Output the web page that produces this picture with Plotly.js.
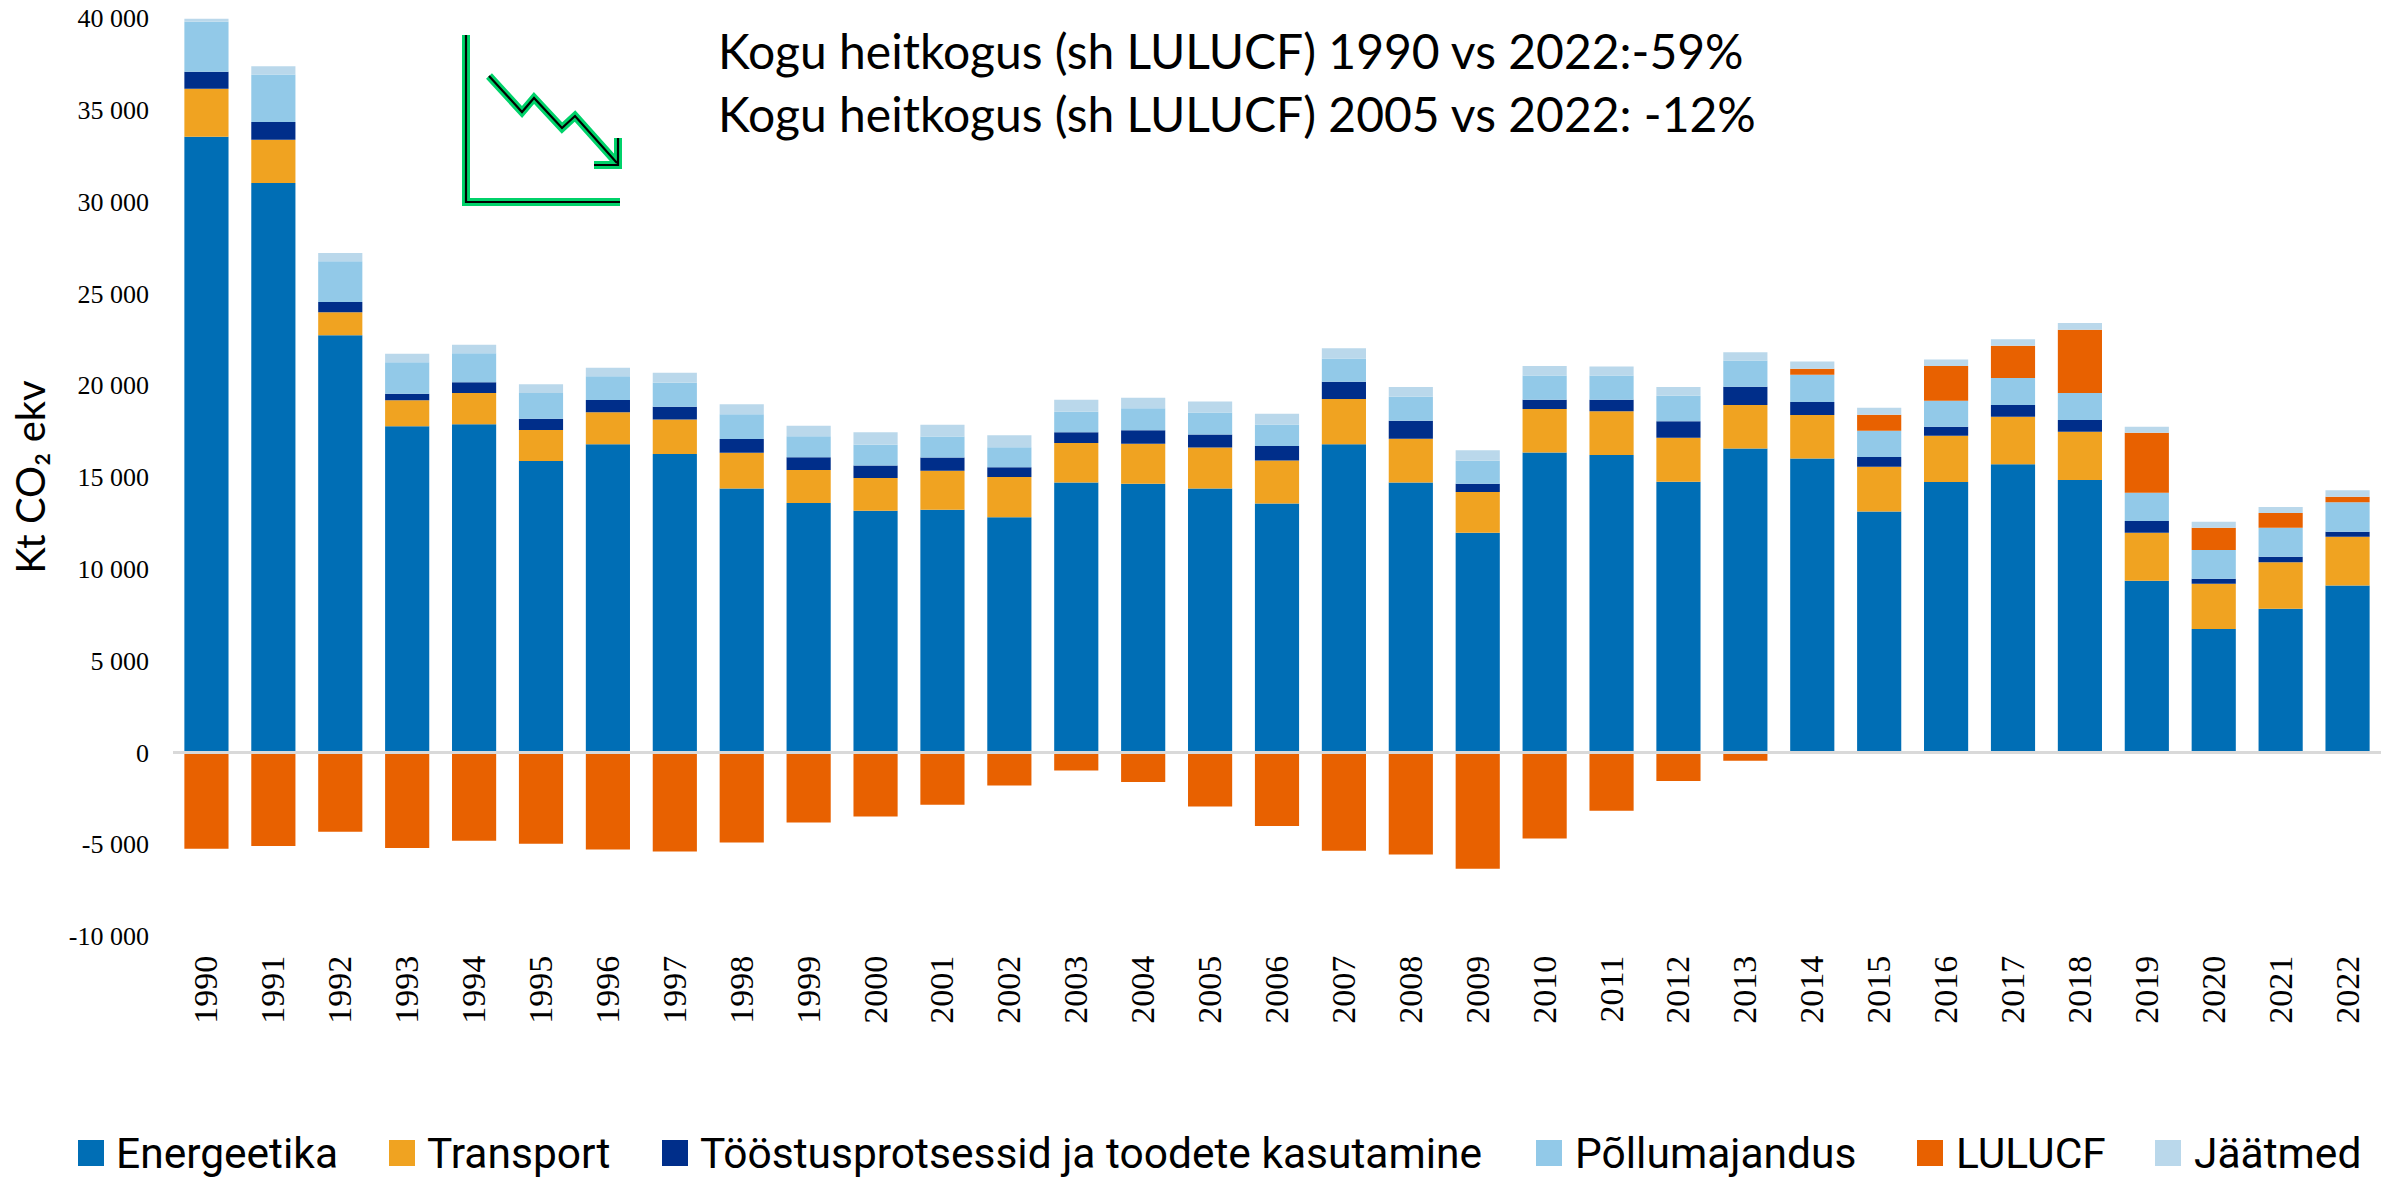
<!DOCTYPE html>
<html>
<head>
<meta charset="utf-8">
<script src="https://cdn.plot.ly/plotly-3.0.1.min.js"></script>
<style>html,body{margin:0;padding:0;background:#fff}#chart{width:2400px;height:1177px}</style>
</head>
<body>
<div id="chart"></div>
<script>
const years = ['1990','1991','1992','1993','1994','1995','1996','1997','1998','1999','2000','2001','2002','2003','2004','2005','2006','2007','2008','2009','2010','2011','2012','2013','2014','2015','2016','2017','2018','2019','2020','2021','2022'];
const energeetika = [33537,31015,22714,17758,17867,15869,16777,16250,14380,13581,13164,13218,12801,14707,14635,14380,13563,16777,14707,11966,16341,16196,14743,16559,16014,13127,14725,15688,14834,9351,6718,7826,9097];
const transport = [2615,2360,1253,1416,1707,1689,1743,1888,1943,1798,1779,2124,2197,2143,2179,2233,2342,2469,2379,2215,2360,2379,2397,2360,2360,2433,2524,2596,2633,2615,2469,2524,2651];
const toostus = [926,964,566,363,581,617,672,690,744,690,690,726,527,581,726,708,781,944,980,454,508,635,890,999,708,527,490,635,635,635,272,309,272];
const pollumajandus = [2724,2578,2212,1707,1580,1398,1289,1307,1344,1144,1126,1144,1089,1126,1198,1198,1180,1271,1307,1253,1325,1325,1398,1434,1489,1434,1416,1471,1471,1543,1561,1580,1598];
const lulucf = [-5247,-5102,-4321,-5211,-4812,-4975,-5284,-5393,-4902,-3813,-3486,-2851,-1798,-980,-1616,-2941,-4013,-5356,-5556,-6337,-4685,-3177,-1561,-454,327,872,1888,1761,3450,3268,1217,799,309];
const jaatmed = [163,454,458,472,472,472,472,545,545,581,672,635,654,654,581,599,581,545,527,563,508,490,472,436,399,381,363,345,363,327,327,327,345];
const seriesNames = ['Energeetika','Transport','Tööstusprotsessid ja toodete kasutamine','Põllumajandus','LULUCF','Jäätmed'];
const seriesColors = ['#006EB5','#F0A321','#002E8A','#92C9E8','#E86100','#BAD8EB'];
const yTickVals = [-10000,-5000,0,5000,10000,15000,20000,25000,30000,35000,40000];
const yTickText = ['-10 000','-5 000','0','5 000','10 000','15 000','20 000','25 000','30 000','35 000','40 000'];
const noteLines = ['Kogu heitkogus (sh LULUCF) 1990 vs 2022:-59%','Kogu heitkogus (sh LULUCF) 2005 vs 2022: -12%'];

const W = 2400, H = 1177, L = 173, R = 2381, T = 18, B = 936;
const px = x => (x - L) / (R - L);
const py = y => (B - y) / (B - T);

const values = [energeetika, transport, toostus, pollumajandus, lulucf, jaatmed];
const traces = values.map((v, i) => ({
  type: 'bar', name: seriesNames[i], x: years, y: v,
  marker: {color: seriesColors[i], line: {width: 0}}
}));

const legendSwatch = [78, 389, 662, 1536, 1917, 2155];
const legendText = [114, 425, 698, 1573, 1954, 2192];
const shapes = [];
const annotations = [];
seriesNames.forEach((n, i) => {
  shapes.push({type: 'rect', xref: 'paper', yref: 'paper', x0: px(legendSwatch[i]), x1: px(legendSwatch[i] + 26), y0: py(1166), y1: py(1140), fillcolor: seriesColors[i], line: {width: 0}});
  annotations.push({xref: 'paper', yref: 'paper', x: px(legendText[i]), y: py(1153), xanchor: 'left', yanchor: 'middle', showarrow: false, text: n, font: {family: 'Roboto', size: 42.5, color: '#000'}});
});
noteLines.forEach((t, i) => {
  annotations.push({xref: 'paper', yref: 'paper', x: px(716), y: py(50 + 64 * i), xanchor: 'left', yanchor: 'middle', showarrow: false, text: t, font: {family: 'Lato', size: 48, color: '#000'}});
});

const iconPaths = [
  [[466,35],[466,202],[620,202]],
  [[489,76],[522,112],[534,98],[562,128],[575,116],[617,163]],
  [[618,138],[618,165],[594,165]]
];
const pathStr = pts => pts.map((p, i) => (i ? 'L' : 'M') + px(p[0]) + ',' + py(p[1])).join(' ');
[['#00D26A', 8], ['#000000', 2.2]].forEach(st => {
  iconPaths.forEach(pts => shapes.push({type: 'path', xref: 'paper', yref: 'paper', path: pathStr(pts), line: {color: st[0], width: st[1]}, layer: 'above'}));
});

const layout = {
  width: W, height: H,
  margin: {l: L, r: W - R, t: T, b: H - B, pad: 0},
  paper_bgcolor: '#fff', plot_bgcolor: '#fff',
  barmode: 'relative', bargap: 0.34,
  showlegend: false,
  xaxis: {type: 'category', tickangle: -90, showgrid: false, showline: false, zeroline: false, ticks: '', ticklabelstandoff: 12,
    tickfont: {family: 'Liberation Serif', size: 34, color: '#000'}, automargin: false},
  yaxis: {range: [-10000, 40000], tickvals: yTickVals, ticktext: yTickText, showgrid: false, showline: false, ticks: '',
    zeroline: true, zerolinecolor: '#D9D9D9', zerolinewidth: 3, zerolinelayer: 'above traces', ticklabelstandoff: 23,
    tickfont: {family: 'Liberation Serif', size: 26, color: '#000'}, automargin: false,
    title: {text: 'Kt CO₂ ekv', font: {family: 'Lato', size: 40, color: '#000'}, standoff: 10}},
  shapes, annotations
};
Plotly.newPlot('chart', traces, layout, {displayModeBar: false, responsive: false});
</script>
</body>
</html>
